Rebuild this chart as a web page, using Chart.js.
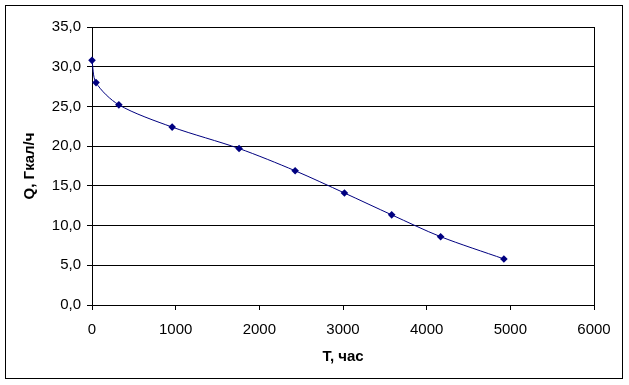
<!DOCTYPE html>
<html>
<head>
<meta charset="utf-8">
<script src="https://cdn.jsdelivr.net/npm/chart.js@4.4.1/dist/chart.umd.min.js"></script>
<style>
  html, body { margin: 0; padding: 0; background: #fff; }
  #wrap { width: 629px; height: 385px; position: relative; }
</style>
</head>
<body>
<div id="wrap"><canvas id="c" width="629" height="385"></canvas></div>
<script>
// Data
const hours = [0, 48, 321, 958, 1758, 2428, 3017, 3582, 4167, 4923];
const heatLoad = [30.8, 28.0, 25.2, 22.4, 19.7, 16.9, 14.1, 11.35, 8.6, 5.8];
const xTickValues = [0, 1000, 2000, 3000, 4000, 5000, 6000];
const yTickValues = [0, 5, 10, 15, 20, 25, 30, 35];
const xTitle = 'T, час';
const yTitle = 'Q, Гкал/ч';

const points = hours.map((h, i) => ({ x: h, y: heatLoad[i] }));

const framePlugin = {
  id: 'frame',
  beforeDraw(chart) {
    const ctx = chart.ctx;
    ctx.save();
    ctx.fillStyle = '#fff';
    ctx.fillRect(0, 0, chart.width, chart.height);
    ctx.restore();
  },
  afterDraw(chart) {
    const ctx = chart.ctx;
    const a = chart.chartArea;
    ctx.save();
    ctx.strokeStyle = '#000';
    ctx.lineWidth = 1;
    ctx.beginPath();
    ctx.moveTo(Math.round(a.right) + 0.5, Math.round(a.top));
    ctx.lineTo(Math.round(a.right) + 0.5, Math.round(a.bottom));
    ctx.stroke();
    ctx.strokeRect(5.5, 5.5, 617, 373);
    ctx.restore();
  }
};

new Chart(document.getElementById('c'), {
  type: 'scatter',
  data: {
    datasets: [{
      data: points,
      showLine: true,
      clip: false,
      borderColor: '#000080',
      borderWidth: 1,
      backgroundColor: '#000080',
      pointStyle: 'rectRot',
      pointRadius: 3.8,
      pointBorderWidth: 0,
      pointBackgroundColor: '#000080',
      tension: 0.3,
      fill: false
    }]
  },
  options: {
    responsive: false,
    animation: false,
    devicePixelRatio: 1,
    layout: { padding: { left: 0, right: 35, top: 27, bottom: 0 } },
    plugins: { legend: { display: false }, tooltip: { enabled: false } },
    scales: {
      x: {
        type: 'linear',
        min: 0, max: 6000,
        afterBuildTicks(scale) { scale.ticks = xTickValues.map(v => ({ value: v })); },
        afterFit(scale) { scale.height = 80; },
        grid: { drawOnChartArea: false, drawTicks: true, tickLength: 5, color: '#000', lineWidth: 1 },
        border: { display: true, color: '#000', width: 1 },
        ticks: {
          color: '#000', padding: 11,
          font: { family: 'Liberation Sans, Arial, sans-serif', size: 15 },
          maxRotation: 0, autoSkip: false,
          callback: v => String(v)
        },
        title: {
          display: true, text: xTitle, color: '#000',
          font: { family: 'Liberation Sans, Arial, sans-serif', size: 15, weight: 'bold' },
          padding: { top: 0, bottom: 19 }
        }
      },
      y: {
        type: 'linear',
        min: 0, max: 35,
        afterBuildTicks(scale) { scale.ticks = yTickValues.map(v => ({ value: v })); },
        afterFit(scale) { scale.width = 92; },
        grid: { drawOnChartArea: true, drawTicks: true, tickLength: 5, color: '#000', lineWidth: 1 },
        border: { display: true, color: '#000', width: 1 },
        ticks: {
          color: '#000', padding: 6,
          font: { family: 'Liberation Sans, Arial, sans-serif', size: 15 },
          autoSkip: false,
          callback: v => v.toFixed(1).replace('.', ',')
        },
        title: {
          display: true, text: yTitle, color: '#000',
          font: { family: 'Liberation Sans, Arial, sans-serif', size: 15, weight: 'bold' },
          padding: { top: 20.5, bottom: 0 }
        }
      }
    }
  },
  plugins: [framePlugin]
});
</script>
</body>
</html>
